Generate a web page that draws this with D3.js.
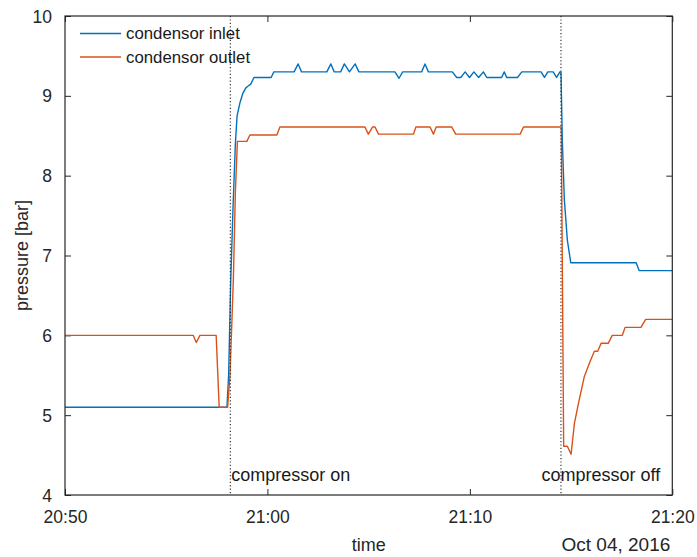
<!DOCTYPE html>
<html>
<head>
<meta charset="utf-8">
<script src="https://cdn.jsdelivr.net/npm/d3@7"></script>
<style>
  html, body { margin: 0; padding: 0; background: #fff; }
  svg { display: block; font-family: "Liberation Sans", Arial, Helvetica, sans-serif; }
</style>
</head>
<body>
<svg id="chart" width="697" height="557"></svg>
<script>
// Measurement day and clock times (HH:MM:SS) of the logged samples
const day = "2016-10-04";

const inletTimes = [
  "20:50:00", "20:58:00", "20:58:05", "20:58:11", "20:58:18", "20:58:25", "20:58:30",
  "20:58:39", "20:58:47", "20:58:56", "20:59:02", "20:59:11", "20:59:20", "21:00:11",
  "21:00:19", "21:01:19", "21:01:31", "21:01:41", "21:02:56", "21:03:08", "21:03:18",
  "21:03:37", "21:03:48", "21:04:03", "21:04:20", "21:04:31", "21:06:18", "21:06:30",
  "21:06:41", "21:07:37", "21:07:47", "21:07:57", "21:09:08", "21:09:21", "21:09:33",
  "21:09:46", "21:09:59", "21:10:12", "21:10:26", "21:10:40", "21:10:50", "21:11:34",
  "21:11:42", "21:11:49", "21:12:21", "21:12:34", "21:13:31", "21:13:41", "21:13:51",
  "21:14:07", "21:14:17", "21:14:27", "21:14:30", "21:14:34", "21:14:40", "21:14:49",
  "21:14:59", "21:18:13", "21:18:22", "21:20:00"
];
const inletValues = [
  5.1, 5.1, 5.5, 6.65, 7.6, 8.4, 8.75,
  8.92, 9.03, 9.1, 9.12, 9.15, 9.23, 9.23,
  9.3, 9.3, 9.4, 9.3, 9.3, 9.4, 9.3,
  9.3, 9.4, 9.3, 9.4, 9.3, 9.3, 9.22,
  9.3, 9.3, 9.4, 9.3, 9.3, 9.23, 9.23,
  9.3, 9.23, 9.3, 9.23, 9.3, 9.23, 9.23,
  9.3, 9.23, 9.23, 9.3, 9.3, 9.23, 9.3,
  9.3, 9.23, 9.3, 9.3, 8.45, 7.7, 7.19,
  6.91, 6.91, 6.81, 6.81
];

const outletTimes = [
  "20:50:00", "20:56:20", "20:56:29", "20:56:40", "20:57:28", "20:57:37", "20:58:02",
  "20:58:09", "20:58:19", "20:58:25", "20:58:31", "20:58:59", "20:59:08", "21:00:28",
  "21:00:37", "21:04:49", "21:04:59", "21:05:12", "21:05:19", "21:05:29", "21:07:13",
  "21:07:20", "21:08:02", "21:08:12", "21:08:20", "21:09:06", "21:09:18", "21:12:29",
  "21:12:39", "21:14:31", "21:14:38", "21:14:49", "21:15:00", "21:15:10", "21:15:22",
  "21:15:39", "21:15:56", "21:16:09", "21:16:19", "21:16:29", "21:16:50", "21:17:02",
  "21:17:32", "21:17:40", "21:18:27", "21:18:41", "21:20:00"
];
const outletValues = [
  6.0, 6.0, 5.91, 6.0, 6.0, 5.1, 5.1,
  5.5, 6.7, 7.8, 8.43, 8.43, 8.51, 8.51,
  8.61, 8.61, 8.52, 8.61, 8.61, 8.52, 8.52,
  8.61, 8.61, 8.52, 8.61, 8.61, 8.52, 8.52,
  8.61, 8.61, 4.61, 4.61, 4.51, 4.9, 5.15,
  5.48, 5.67, 5.8, 5.8, 5.9, 5.9, 6.0,
  6.0, 6.1, 6.1, 6.2, 6.2
];

const seriesNames = ["condensor inlet", "condensor outlet"];
const seriesColors = ["#0072BD", "#D95319"];

const xDomain = ["20:50:00", "21:20:00"];
const xTickTimes = ["20:50:00", "21:00:00", "21:10:00", "21:20:00"];
const yTicks = [4, 5, 6, 7, 8, 9, 10];

const eventTimes = ["20:58:10", "21:14:30"];
const eventLabels = ["compressor on", "compressor off"];

const xTitle = "time";
const yTitle = "pressure [bar]";
const dateLabel = "Oct 04, 2016";

// ---------------------------------------------------------------------------
const parse = d3.timeParse("%Y-%m-%d %H:%M:%S");
const at = s => parse(day + " " + s);

const plot = { left: 65, top: 16, right: 672.3, bottom: 495 };
const axisColor = "#262626";
const tickLen = 6;

const svg = d3.select("#chart");

const x = d3.scaleTime().domain(xDomain.map(at)).range([plot.left, plot.right]);
const y = d3.scaleLinear().domain([4, 10]).range([plot.bottom, plot.top]);

// clip region for the data lines
svg.append("defs").append("clipPath").attr("id", "plotClip")
  .append("rect")
  .attr("x", plot.left).attr("y", plot.top)
  .attr("width", plot.right - plot.left).attr("height", plot.bottom - plot.top);

// axes: bottom/left carry labels, top/right are mirrored tick marks only
const xAxis = d3.axisBottom(x).tickValues(xTickTimes.map(at))
  .tickFormat(d3.timeFormat("%H:%M")).tickSizeInner(-tickLen).tickSizeOuter(0).tickPadding(16);
const yAxis = d3.axisLeft(y).tickValues(yTicks).tickFormat(d3.format("d"))
  .tickSizeInner(-tickLen).tickSizeOuter(0).tickPadding(13);

const gx = svg.append("g").attr("transform", `translate(0,${plot.bottom})`).call(xAxis);
const gy = svg.append("g").attr("transform", `translate(${plot.left},0)`).call(yAxis);
const gxTop = svg.append("g").attr("transform", `translate(0,${plot.top})`)
  .call(d3.axisTop(x).tickValues(xTickTimes.map(at)).tickSizeInner(-tickLen).tickSizeOuter(0).tickFormat(""));
const gyRight = svg.append("g").attr("transform", `translate(${plot.right},0)`)
  .call(d3.axisRight(y).tickValues(yTicks).tickSizeInner(-tickLen).tickSizeOuter(0).tickFormat(""));

[gx, gy, gxTop, gyRight].forEach(g => {
  g.select(".domain").remove();
  g.selectAll(".tick line").attr("stroke", axisColor).attr("stroke-width", 1);
  g.selectAll(".tick text").attr("fill", axisColor)
    .style("font-size", "17.5px").style("font-family", "'Liberation Sans', Arial, sans-serif");
});
gy.selectAll(".tick text").attr("dy", "0.35em");

// data lines
const lineGen = d3.line().x(d => x(d.t)).y(d => y(d.v));
const series = [
  inletTimes.map((t, i) => ({ t: at(t), v: inletValues[i] })),
  outletTimes.map((t, i) => ({ t: at(t), v: outletValues[i] }))
];
const gLines = svg.append("g").attr("clip-path", "url(#plotClip)");
series.forEach((s, i) => {
  gLines.append("path").datum(s)
    .attr("d", lineGen)
    .attr("fill", "none")
    .attr("stroke", seriesColors[i])
    .attr("stroke-width", 1.4)
    .attr("stroke-linejoin", "round");
});

// compressor event markers; a label that would run past the frame is pulled back inside
eventTimes.forEach((t, i) => {
  const ex = x(at(t));
  svg.append("line")
    .attr("x1", ex).attr("x2", ex).attr("y1", plot.top).attr("y2", plot.bottom)
    .attr("stroke", "#222").attr("stroke-width", 1.1)
    .attr("stroke-dasharray", "1.2,2.2");
  const lbl = svg.append("text")
    .attr("x", ex + 1).attr("y", plot.bottom - 14)
    .attr("fill", "#1a1a1a")
    .style("font-size", "18px")
    .text(eventLabels[i]);
  const w = lbl.node().getComputedTextLength();
  if (ex + 1 + w > plot.right - 10) lbl.attr("x", plot.right - 12 - w);
});

// plot frame
svg.append("rect")
  .attr("x", plot.left).attr("y", plot.top)
  .attr("width", plot.right - plot.left).attr("height", plot.bottom - plot.top)
  .attr("fill", "none").attr("stroke", axisColor).attr("stroke-width", 1.2);

// legend
const legend = svg.append("g");
seriesNames.forEach((name, i) => {
  const ly = 33.5 + i * 23.5;
  legend.append("line")
    .attr("x1", 80).attr("x2", 121).attr("y1", ly).attr("y2", ly)
    .attr("stroke", seriesColors[i]).attr("stroke-width", 1.4);
  legend.append("text")
    .attr("x", 126).attr("y", ly).attr("dy", "0.35em")
    .attr("fill", "#1a1a1a")
    .style("font-size", "16.8px")
    .text(name);
});

// axis titles and date stamp
svg.append("text")
  .attr("x", (plot.left + plot.right) / 2).attr("y", 551)
  .attr("text-anchor", "middle").attr("fill", axisColor)
  .style("font-size", "18px").text(xTitle);
svg.append("text")
  .attr("transform", `translate(28,${(plot.top + plot.bottom) / 2}) rotate(-90)`)
  .attr("text-anchor", "middle").attr("fill", axisColor)
  .style("font-size", "18px").text(yTitle);
svg.append("text")
  .attr("x", plot.right - 2).attr("y", 551)
  .attr("text-anchor", "end").attr("fill", axisColor)
  .style("font-size", "19px").text(dateLabel);
</script>
</body>
</html>
